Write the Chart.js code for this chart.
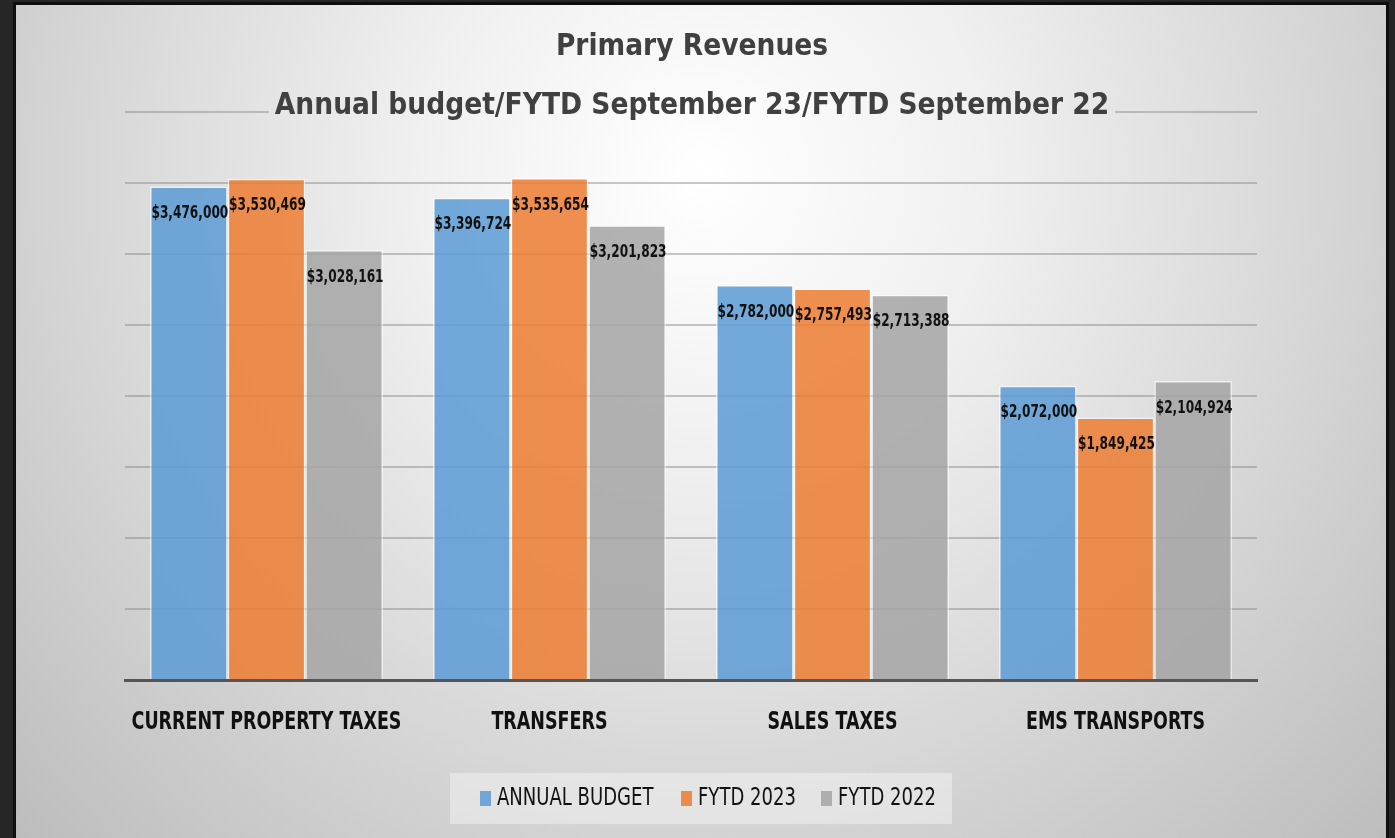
<!DOCTYPE html>
<html>
<head>
<meta charset="utf-8">
<title>Primary Revenues</title>
<script src="https://cdn.jsdelivr.net/npm/chart.js@4.4.1/dist/chart.umd.min.js"></script>
<style>
  html, body { margin: 0; padding: 0; background: #262626; }
  body { width: 1395px; height: 838px; overflow: hidden; position: relative; }
  #edge { position: absolute; left: 13px; top: 2px; width: 1376px; height: 840px; background: #0e0e0e; }
  #frame { position: absolute; left: 16px; top: 5px; width: 1370px; height: 833px; }
</style>
</head>
<body>
<div id="edge"></div>
<div id="frame"><canvas id="revenueChart" width="1370" height="833"></canvas></div>
<script>
const categories = ["CURRENT PROPERTY TAXES", "TRANSFERS", "SALES TAXES", "EMS TRANSPORTS"];
const annualBudget = [3476000, 3396724, 2782000, 2072000];
const fytd2023 = [3530469, 3535654, 2757493, 1849425];
const fytd2022 = [3028161, 3201823, 2713388, 2104924];
const seriesNames = ["ANNUAL BUDGET", "FYTD 2023", "FYTD 2022"];
const seriesColors = ["rgba(91,155,213,0.85)", "rgba(237,125,49,0.85)", "rgba(165,165,165,0.85)"];
const titleLines = ["Primary Revenues", "Annual budget/FYTD September 23/FYTD September 22"];
const yMax = 4000000;
const yStep = 500000;

const cond = '"DejaVu Sans Condensed", "DejaVu Sans", sans-serif';

function money(v) {
  return "$" + v.toLocaleString("en-US");
}

function bgGradient(ctx) {
  const g = ctx.createRadialGradient(686, 170, 0, 686, 170, 950);
  g.addColorStop(0, "#ffffff");
  g.addColorStop(0.3, "#f0f0f0");
  g.addColorStop(1, "#bdbdbd");
  return g;
}

// texto comprimido en horizontal (la fuente original es mas estrecha)
function squeezedText(ctx, text, x, y, sx) {
  ctx.save();
  ctx.translate(x, y);
  ctx.scale(sx, 1);
  ctx.fillText(text, 0, 0);
  ctx.restore();
}

// fondo degradado
const backgroundPlugin = {
  id: "background",
  beforeDraw(chart) {
    const ctx = chart.ctx;
    ctx.save();
    ctx.fillStyle = bgGradient(ctx);
    ctx.fillRect(0, 0, chart.width, chart.height);
    ctx.restore();
  }
};

// etiquetas de valor dentro de cada barra
const valueLabels = {
  id: "valueLabels",
  afterDatasetsDraw(chart) {
    const ctx = chart.ctx;
    ctx.save();
    ctx.font = "bold 18px " + cond;
    ctx.fillStyle = "#111";
    ctx.textAlign = "center";
    ctx.textBaseline = "middle";
    chart.data.datasets.forEach((ds, i) => {
      chart.getDatasetMeta(i).data.forEach((bar, j) => {
        squeezedText(ctx, money(ds.data[j]), bar.x + 1, bar.y + 27, 0.75);
      });
    });
    ctx.restore();
  }
};

// etiquetas de categoria bajo el eje
const categoryLabels = {
  id: "categoryLabels",
  afterDraw(chart) {
    const ctx = chart.ctx;
    const xs = chart.scales.x;
    ctx.save();
    ctx.font = "bold 25px " + cond;
    ctx.fillStyle = "#111";
    ctx.textAlign = "center";
    ctx.textBaseline = "middle";
    chart.data.labels.forEach((lab, i) => {
      squeezedText(ctx, lab, xs.getPixelForTick(i), 717, 0.778);
    });
    ctx.restore();
  }
};

// titulo de dos lineas
const titlePlugin = {
  id: "twoLineTitle",
  afterDraw(chart) {
    const ctx = chart.ctx;
    ctx.save();
    ctx.font = "bold 29.5px " + cond;
    const w = ctx.measureText(titleLines[1]).width;
    ctx.fillStyle = bgGradient(ctx);
    ctx.fillRect(676 - w / 2 - 6, 84, w + 12, 38);
    ctx.fillStyle = "#404040";
    ctx.textAlign = "center";
    ctx.textBaseline = "alphabetic";
    ctx.fillText(titleLines[0], 676, 50);
    ctx.fillText(titleLines[1], 676, 109);
    ctx.restore();
  }
};

// leyenda con caja
const legendBox = {
  id: "legendBox",
  afterDraw(chart) {
    const ctx = chart.ctx;
    ctx.save();
    ctx.fillStyle = "rgba(240,240,240,0.55)";
    ctx.fillRect(434, 768, 502, 51);
    ctx.font = "24px " + cond;
    ctx.textBaseline = "middle";
    ctx.textAlign = "left";
    const starts = [464, 665, 805];
    chart.data.datasets.forEach((ds, i) => {
      ctx.fillStyle = ds.backgroundColor;
      ctx.fillRect(starts[i], 786, 11, 15);
      ctx.fillStyle = "#111";
      squeezedText(ctx, ds.label, starts[i] + 17, 794, 0.835);
    });
    ctx.restore();
  }
};

const ctx = document.getElementById("revenueChart").getContext("2d");
new Chart(ctx, {
  type: "bar",
  data: {
    labels: categories,
    datasets: [annualBudget, fytd2023, fytd2022].map((vals, i) => ({
      label: seriesNames[i],
      data: vals,
      backgroundColor: seriesColors[i],
      borderColor: "rgba(255,255,255,0.6)",
      borderWidth: 1.5,
      borderSkipped: "bottom",
      categoryPercentage: 0.823,
      barPercentage: 1
    }))
  },
  options: {
    responsive: false,
    animation: false,
    layout: { padding: { left: 109, right: 129, top: 107, bottom: 0 } },
    plugins: {
      legend: { display: false },
      title: { display: false },
      tooltip: { enabled: false }
    },
    scales: {
      x: {
        grid: { display: false },
        border: { color: "#555", width: 3 },
        ticks: { display: false },
        afterFit(scale) { scale.height = 158; }
      },
      y: {
        min: 0,
        max: yMax,
        ticks: { display: false, stepSize: yStep },
        grid: { color: "rgba(130,130,130,0.45)", lineWidth: 2, drawTicks: false },
        border: { display: false },
        afterFit(scale) { scale.width = 0; }
      }
    }
  },
  plugins: [backgroundPlugin, valueLabels, categoryLabels, titlePlugin, legendBox]
});
</script>
</body>
</html>
